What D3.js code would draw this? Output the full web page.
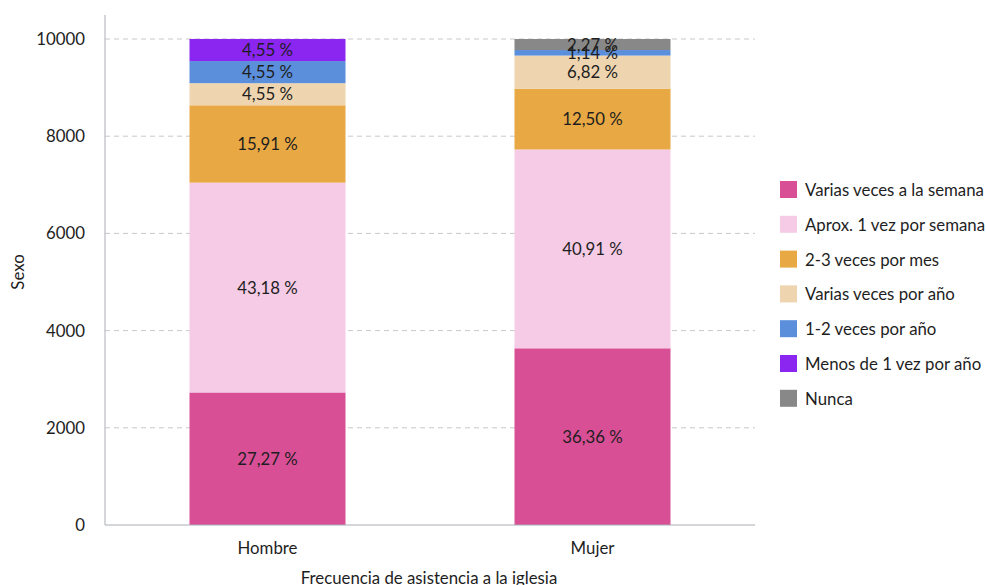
<!DOCTYPE html>
<html lang="es">
<head>
    <meta charset="UTF-8">
    <title>Frecuencia de asistencia a la iglesia</title>
    <script src="https://d3js.org/d3.v7.min.js"></script>
    <style>
        body { margin: 0; background: #fff; font-family: Lato, "Open Sans", sans-serif; }
        text { font-family: Lato, "Open Sans", sans-serif; fill: #1e1e1e; }
    </style>
</head>
<body>
    <div id="chart"></div>
    <script>
        // Categories and series (values in % x 100)
        const sexos = ["Hombre", "Mujer"];
        const frecuencias = [
            "Varias veces a la semana",
            "Aprox. 1 vez por semana",
            "2-3 veces por mes",
            "Varias veces por año",
            "1-2 veces por año",
            "Menos de 1 vez por año",
            "Nunca"
        ];
        const hombre = [2727, 4318, 1591, 455, 455, 455, 0];
        const mujer = [3636, 4091, 1250, 682, 114, 0, 227];
        const colores = ["#d94f96", "#f5cbe5", "#e8a843", "#eed5b0", "#5b8edb", "#8a26f0", "#888888"];
        const yTicks = [0, 2000, 4000, 6000, 8000, 10000];

        const width = 986, height = 585;
        const margin = { top: 15, right: 231, bottom: 60, left: 105 };
        const fs = "16.8px";

        const svg = d3.select("#chart").append("svg")
            .attr("width", width).attr("height", height);

        const x = d3.scaleBand().domain(sexos)
            .range([margin.left, width - margin.right])
            .paddingInner(0.52).paddingOuter(0.26);

        const y = d3.scaleLinear().domain([0, 10000]).range([525, 39]);

        // grid
        svg.append("g").selectAll("line")
            .data(yTicks.filter(d => d > 0))
            .join("line")
            .attr("x1", margin.left).attr("x2", width - margin.right)
            .attr("y1", d => y(d)).attr("y2", d => y(d))
            .attr("stroke", "#c8c8c8").attr("stroke-dasharray", "5,4");

        // stacked data
        const rows = sexos.map((s, i) => {
            const vals = i === 0 ? hombre : mujer;
            const r = { sexo: s };
            frecuencias.forEach((f, j) => r[f] = vals[j]);
            return r;
        });
        const series = d3.stack().keys(frecuencias)(rows);
        const color = d3.scaleOrdinal().domain(frecuencias).range(colores);

        const layer = svg.append("g").selectAll("g")
            .data(series).join("g")
            .attr("fill", d => color(d.key));

        layer.selectAll("rect")
            .data(d => d)
            .join("rect")
            .attr("x", d => x(d.data.sexo))
            .attr("width", x.bandwidth())
            .attr("y", d => y(d[1]))
            .attr("height", d => y(d[0]) - y(d[1]));

        const fmt = v => (v / 100).toFixed(2).replace(".", ",") + " %";
        svg.append("g").selectAll("g")
            .data(series).join("g")
            .selectAll("text")
            .data(d => d.filter(p => p[1] - p[0] > 0))
            .join("text")
            .attr("x", d => x(d.data.sexo) + x.bandwidth() / 2)
            .attr("y", d => (y(d[0]) + y(d[1])) / 2)
            .attr("dy", "0.36em")
            .attr("text-anchor", "middle")
            .style("font-size", fs)
            .text(d => fmt(d[1] - d[0]));

        // axes
        svg.append("line")
            .attr("x1", margin.left).attr("x2", margin.left)
            .attr("y1", 15).attr("y2", y(0))
            .attr("stroke", "#a9adb5");
        svg.append("line")
            .attr("x1", margin.left).attr("x2", width - margin.right)
            .attr("y1", y(0)).attr("y2", y(0))
            .attr("stroke", "#a9adb5");

        svg.append("g").selectAll("text")
            .data(yTicks).join("text")
            .attr("x", 85).attr("y", d => y(d)).attr("dy", "0.36em")
            .attr("text-anchor", "end")
            .style("font-size", fs)
            .text(d => d);

        svg.append("g").selectAll("text")
            .data(sexos).join("text")
            .attr("x", d => x(d) + x.bandwidth() / 2)
            .attr("y", 548).attr("dy", "0.36em")
            .attr("text-anchor", "middle")
            .style("font-size", fs)
            .text(d => d);

        svg.append("text")
            .attr("transform", "translate(18,272) rotate(-90)")
            .attr("text-anchor", "middle").attr("dy", "0.36em")
            .style("font-size", fs)
            .text("Sexo");

        svg.append("text")
            .attr("x", 429).attr("y", 578).attr("dy", "0.36em")
            .attr("text-anchor", "middle")
            .style("font-size", fs)
            .text("Frecuencia de asistencia a la iglesia");

        // legend
        const legend = svg.append("g").selectAll("g")
            .data(frecuencias).join("g")
            .attr("transform", (d, i) => "translate(780," + (190 + i * 34.8) + ")");
        legend.append("rect")
            .attr("x", 0).attr("y", -9).attr("width", 17).attr("height", 17)
            .attr("fill", d => color(d));
        legend.append("text")
            .attr("x", 25).attr("dy", "0.36em")
            .style("font-size", fs)
            .text(d => d);
    </script>
</body>
</html>
